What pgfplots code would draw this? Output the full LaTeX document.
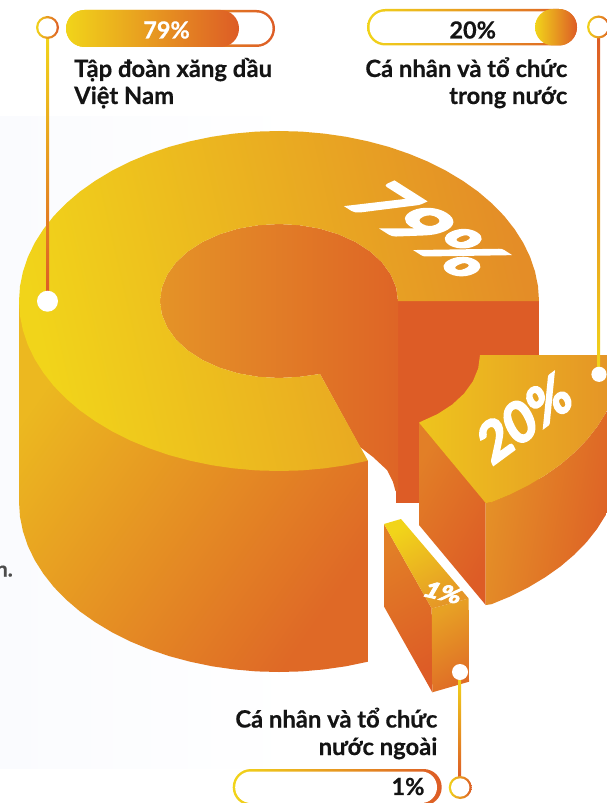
\documentclass[border=0pt]{standalone}
\usepackage{fontspec}
\usepackage{pgfplots}
\pgfplotsset{compat=1.18}
\setmainfont{Lato}[BoldFeatures={FakeBold=0.5}]
\definecolor{sunY}{HTML}{F1D41A}
\definecolor{sunM}{HTML}{E59627}
\definecolor{sunR}{HTML}{DD5C26}
\definecolor{ink}{HTML}{141414}
\definecolor{haze}{HTML}{FAFBFE}
\newcommand\lbl{\fontsize{23.8bp}{27bp}\selectfont\bfseries}
\newcommand\pct{\fontsize{23.5bp}{27bp}\selectfont\bfseries}
\newfontfamily\heavy{Lato}[FakeBold=4,BoldFont={Lato Bold},BoldFeatures={FakeBold=4}]
\begin{document}
\begin{tikzpicture}
\useasboundingbox (0,0) rectangle (607bp,803bp);
\begin{axis}[
  axis lines=none, scale only axis, width=607bp, height=803bp,
  xmin=0, xmax=607, ymin=0, ymax=803, y dir=reverse,
  clip=true, clip mode=global,
  every axis plot/.append style={draw=none, mark=none},
]
% pale panel behind the pie
\addplot[left color=haze, right color=white] coordinates {(0,117)(300,117)(300,768)(0,768)};

% cut face of the large sector
\addplot[fill=sunR] coordinates {(395.5,301)(539,301)(539,503)(395.5,503)};

% inner wall seen through the hole
\addplot[left color=sunM!95!sunR, right color=sunR!85!sunM] coordinates {
 (398,301)(396.2,287.6)(390.8,274.7)(382.1,262.5)(370.2,251.5)(355.5,242)(338.5,234.3)(319.7,228.6)(299.7,225.2)(279,224)
 (258.3,225.2)(238.3,228.6)(219.5,234.3)(202.5,242)(187.8,251.5)(175.9,262.5)(167.2,274.7)(161.8,287.6)(160,301)
 (161.8,314.4)(167.2,327.3)(175.9,339.5)(187.8,350.5)(202.5,360)(219.5,367.7)(238.3,373.4)(258.3,376.8)(279,378)(299.7,376.8)(320,374)
 (360,447)(373,457)(387,470)(393,482)(395.5,491)(398,491)};

% outer wall of the large sector
\addplot[left color=sunY!55!sunM, middle color=sunM!92!sunR, right color=sunR!78!sunM, shading angle=55] coordinates {
 (19,301)(19,502)(20,516.8)(23,531.5)(27.9,546)(34.7,560.1)(43.4,573.8)(53.8,587)(66,599.5)(79.8,611.3)(95.2,622.2)
 (111.9,632.2)(129.9,641.3)(149,649.2)(169.1,656.1)(190.1,661.7)(211.7,666.2)(233.9,669.4)(256.3,671.4)(279,672)
 (301.7,671.4)(324.1,669.4)(346.3,666.2)(367.9,661.7)(367.9,460.7)};

% top face of the large sector
\addplot[left color=sunY, right color=sunM!85!sunR, shading angle=103] coordinates {
 (539,301)(538,286.2)(535,271.5)(530.1,257)(523.3,242.9)(514.6,229.2)(504.2,216)(492,203.5)(478.2,191.7)(462.8,180.8)
 (446.1,170.8)(428.1,161.7)(409,153.8)(388.9,146.9)(367.9,141.3)(346.3,136.8)(324.1,133.6)(301.7,131.6)(279,131)
 (256.3,131.6)(233.9,133.6)(211.7,136.8)(190.1,141.3)(169.1,146.9)(149,153.8)(129.9,161.7)(111.9,170.8)(95.2,180.8)
 (79.8,191.7)(66,203.5)(53.8,216)(43.4,229.2)(34.7,242.9)(27.9,257)(23,271.5)(20,286.2)(19,301)
 (20,315.8)(23,330.5)(27.9,345)(34.7,359.1)(43.4,372.8)(53.8,386)(66,398.5)(79.8,410.3)(95.2,421.2)(111.9,431.2)
 (129.9,440.3)(149,448.2)(169.1,455.1)(190.1,460.7)(211.7,465.2)(233.9,468.4)(256.3,470.4)(279,471)(301.7,470.4)
 (324.1,468.4)(346.3,465.2)(367.9,460.7)
 (320,374)(299.7,376.8)(279,378)(258.3,376.8)(238.3,373.4)(219.5,367.7)(202.5,360)(187.8,350.5)(175.9,339.5)(167.2,327.3)
 (161.8,314.4)(160,301)(161.8,287.6)(167.2,274.7)(175.9,262.5)(187.8,251.5)(202.5,242)(219.5,234.3)(238.3,228.6)(258.3,225.2)
 (279,224)(299.7,225.2)(319.7,228.6)(338.5,234.3)(355.5,242)(370.2,251.5)(382.1,262.5)(390.8,274.7)(396.2,287.6)(398,301)};

% 20% sector: side, outer wall, top
\addplot[left color=sunM!60!sunR, right color=sunR, shading angle=60] coordinates {(419,423)(485.7,503)(485.7,605)(419,525)};
\addplot[left color=sunM, right color=sunR, shading angle=80] coordinates {
 (485.7,503)(491.5,502.2)(510.6,494.3)(528.6,485.2)(545.3,475.2)(560.7,464.3)(574.5,452.5)(586.7,440)(597.1,426.8)(605.8,412.9)(612.6,399)(617.5,384.5)(620.5,369.8)(621.5,355)
 (621.5,457)(620.5,471.8)(617.5,486.5)(612.6,501)(605.8,514.9)(597.1,528.8)(586.7,542)(574.5,554.5)(560.7,566.3)(545.3,577.2)(528.6,587.2)(510.6,596.3)(491.5,604.2)(485.7,605)};
\addplot[left color=sunY!75!sunM, right color=sunM!92!sunR] coordinates {
 (480,355)(621.5,355)(620.5,369.8)(617.5,384.5)(612.6,399)(605.8,412.9)(597.1,426.8)(586.7,440)(574.5,452.5)(560.7,464.3)(545.3,475.2)(528.6,485.2)(510.6,494.3)(491.5,502.2)(485.7,503)
 (419,422.7)(420.8,421.7)(437.7,414)(452.3,404.5)(464.1,393.5)(472.9,381.3)(478.2,368.4)};

% 1% sector: side, front, top
\addplot[left color=sunM!60!sunR, right color=sunR, shading angle=30] coordinates {(384,524)(431.7,608.5)(432.3,692.3)(384,606.5)};
\addplot[left color=sunR!70!sunM, right color=sunM!80!sunY, shading angle=-150] coordinates {(431.7,608.5)(468.7,598.5)(469,681.7)(432.3,692.3)};
\addplot[left color=sunY, right color=sunM, shading angle=30] coordinates {(384,524)(401,519)(468.7,598.5)(431.7,608.5)};

% percentages lying on the top faces
\coordinate (p79) at (axis cs:427,230);
\coordinate (p20) at (axis cs:524.5,418);
\coordinate (p01) at (axis cs:443.5,592.5);
\node[shift={(p79)}, cm={.74,-.47,.84,.38,(0,0)}, transform shape, white, inner sep=0pt, font=\fontsize{83bp}{83bp}\heavy\bfseries] at (0,0) {79\%};
\node[shift={(p20)}, cm={.84,.62,-.5,.96,(0,0)}, transform shape, white, inner sep=0pt, font=\fontsize{50bp}{50bp}\heavy\bfseries] at (0,0) {20\%};
\node[shift={(p01)}, cm={1.3,-.3,.58,1.0,(0,0)}, transform shape, white, inner sep=0pt, font=\fontsize{20bp}{20bp}\heavy\bfseries] at (0,0) {1\%};

% leader lines
\addplot[top color=sunY, bottom color=sunR] coordinates {(46,38)(49.2,38)(49.2,292)(46,292)};
\addplot[top color=sunR, bottom color=sunY] coordinates {(597,38)(600.2,38)(600.2,368)(597,368)};
\addplot[top color=sunY, bottom color=sunR] coordinates {(458.2,678)(461.2,678)(461.2,777)(458.2,777)};

% end dots on the sectors
\addplot[fill=white, rounded corners=10.5bp] coordinates {(47.5,290.7)(58,290.7)(58,311.7)(37,311.7)(37,290.7)(47.5,290.7)};
\addplot[fill=white, rounded corners=7.6bp] coordinates {(599,366.7)(606.6,366.7)(606.6,381.9)(591.4,381.9)(591.4,366.7)(599,366.7)};
\addplot[fill=white, rounded corners=8bp] coordinates {(460,664)(468,664)(468,680)(452,680)(452,664)(460,664)};

% rings at the far end of the leaders
\addplot[left color=sunY, right color=sunR, rounded corners=11.5bp] coordinates {(47.5,16)(59,16)(59,39)(36,39)(36,16)(47.5,16)};
\addplot[fill=white, rounded corners=9.2bp] coordinates {(47.5,18.3)(56.7,18.3)(56.7,36.7)(38.3,36.7)(38.3,18.3)(47.5,18.3)};
\addplot[left color=sunY, right color=sunR, rounded corners=11.5bp] coordinates {(598.5,15.5)(610,15.5)(610,38.5)(587,38.5)(587,15.5)(598.5,15.5)};
\addplot[fill=white, rounded corners=9.2bp] coordinates {(598.5,17.8)(607.7,17.8)(607.7,36.2)(589.3,36.2)(589.3,17.8)(598.5,17.8)};
\addplot[left color=sunY, right color=sunR, rounded corners=11.5bp] coordinates {(460.2,776)(471.7,776)(471.7,799)(448.7,799)(448.7,776)(460.2,776)};
\addplot[fill=white, rounded corners=9.2bp] coordinates {(460.2,778.3)(469.4,778.3)(469.4,796.7)(451,796.7)(451,778.3)(460.2,778.3)};

% share bars: 79%
\addplot[left color=sunY, right color=sunR, rounded corners=18.5bp] coordinates {(170,10)(275,10)(275,47)(66,47)(66,10)(170,10)};
\addplot[fill=white, rounded corners=16bp] coordinates {(170,12.5)(272.5,12.5)(272.5,44.5)(68.5,44.5)(68.5,12.5)(170,12.5)};
\addplot[left color=sunY, right color=sunR, rounded corners=18.5bp] coordinates {(150,10)(239,10)(239,47)(66,47)(66,10)(150,10)};
% share bars: 20%
\addplot[left color=sunY, right color=sunR, rounded corners=18.2bp] coordinates {(470,9)(577,9)(577,45.5)(367,45.5)(367,9)(470,9)};
\addplot[fill=white, rounded corners=15.7bp] coordinates {(470,11.5)(574.5,11.5)(574.5,43)(369.5,43)(369.5,11.5)(470,11.5)};
\addplot[left color=sunY, right color=sunR, rounded corners=18.2bp] coordinates {(556,9)(577,9)(577,45.5)(535,45.5)(535,9)(556,9)};
% share bars: 1%
\addplot[left color=sunY, right color=sunR, rounded corners=18.2bp] coordinates {(340,769)(441.7,769)(441.7,805.5)(232.7,805.5)(232.7,769)(340,769)};
\addplot[fill=white, rounded corners=15.7bp] coordinates {(340,771.5)(437,771.5)(437,803)(235.2,803)(235.2,771.5)(340,771.5)};

% bar captions
\node[white, font=\pct] at (axis cs:166.5,30) {79\%};
\node[ink, font=\pct] at (axis cs:472.7,30) {20\%};
\node[ink, font=\pct] at (axis cs:408,786.5) {1\%};

% group names
\node[ink, anchor=base west, inner sep=0pt, font=\lbl] at (axis cs:74,77) {Tập đoàn xăng dầu};
\node[ink, anchor=base west, inner sep=0pt, font=\lbl] at (axis cs:74,104) {Việt Nam};
\node[ink, anchor=base east, inner sep=0pt, font=\lbl] at (axis cs:567.5,77) {Cá nhân và tổ chức};
\node[ink, anchor=base east, inner sep=0pt, font=\lbl] at (axis cs:567.5,104) {trong nước};
\node[ink, anchor=base east, inner sep=0pt, font=\lbl] at (axis cs:437.5,727.5) {Cá nhân và tổ chức};
\node[ink, anchor=base east, inner sep=0pt, font=\lbl] at (axis cs:437.5,755) {nước ngoài};
\node[black!70, anchor=base east, inner sep=0pt, font=\fontsize{21bp}{25bp}\selectfont\bfseries] at (axis cs:13,576.5) {n.};
\end{axis}
\end{tikzpicture}
\end{document}
